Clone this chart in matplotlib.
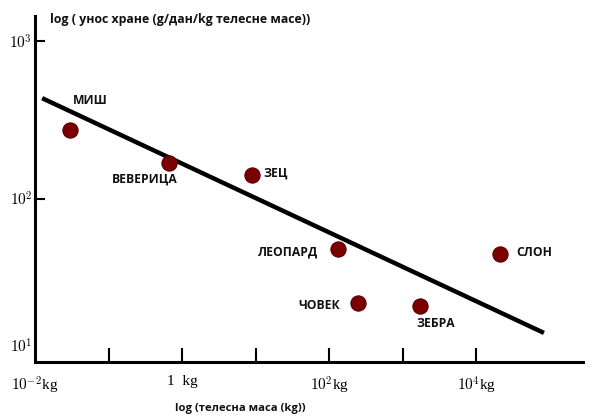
import matplotlib
matplotlib.use('Agg')
import matplotlib.pyplot as plt
import matplotlib.transforms as mtransforms
import numpy as np

# animals: body mass (kg) and food intake (g/day/kg body mass)
animals = ['МИШ', 'ВЕВЕРИЦА', 'ЗЕЦ', 'ЛЕОПАРД', 'СЛОН', 'ЧОВЕК', 'ЗЕБРА']
mass = [0.030, 0.67, 9.0, 131, 21000, 245, 1700]
intake = [273, 169, 142, 48, 45, 22, 21]

# trend line end points
line_x = [0.0125, 83000]
line_y = [436, 14.2]

xticks = [1e-2, 1e-1, 1e0, 1e1, 1e2, 1e3, 1e4]
xticklabels = [r'$10^{-2}$kg', '', r'1  kg', '', r'$10^{2}$kg', '', r'$10^{4}$kg']
yticks = [1e1, 1e2, 1e3]
yticklabels = [r'$10^{1}$', r'$10^{2}$', r'$10^{3}$']

# label offsets in pixels from each point, and alignment
offsets = [(3, 30), (-25, -16), (11, 2), (-20, -3), (16, 1), (-18, -3), (16, -17)]
aligns = ['left', 'center', 'left', 'right', 'left', 'right', 'center']

plt.rcParams['mathtext.fontset'] = 'cm'
plt.rcParams['font.family'] = ['Open Sans', 'DejaVu Sans']

fig = plt.figure(figsize=(5.91, 4.15), dpi=100)
ax = fig.add_axes([35/591, 1 - 362/415, (583-35)/591, (362-16)/415])

ax.set_xscale('log')
ax.set_yscale('log')
ax.set_xlim(10**-1.99, 10**5.45)
ax.set_ylim(10**0.968, 10**3.16)

ax.plot(line_x, line_y, color='black', lw=3.2, solid_capstyle='butt', zorder=2)
ax.scatter(mass, intake, s=120, color='#7a0000', edgecolor='#5a0000', lw=0.8, zorder=3)

for name, x, y, off, ha in zip(animals, mass, intake, offsets, aligns):
    ax.annotate(name, (x, y), xytext=off, textcoords='offset pixels',
                ha=ha, va='center', fontsize=8.7, fontweight='bold', color='#111111')

for s in ['top', 'right']:
    ax.spines[s].set_visible(False)
for s in ['left', 'bottom']:
    ax.spines[s].set_linewidth(2.2)
ax.plot(1, 0, '>k', markersize=7, transform=ax.get_yaxis_transform(), clip_on=False)
ax.plot(0, 1, '^k', markersize=7, transform=ax.get_xaxis_transform(), clip_on=False)

ax.xaxis.set_minor_locator(matplotlib.ticker.NullLocator())
ax.yaxis.set_minor_locator(matplotlib.ticker.NullLocator())
ax.set_xticks(xticks)
ax.set_xticklabels(xticklabels, family='Liberation Serif', fontsize=11)
ax.set_yticks(yticks)
ax.set_yticklabels(yticklabels, fontsize=11)
ax.tick_params(axis='x', direction='in', length=10, width=1.5, pad=9)
ax.tick_params(axis='y', direction='in', length=7, width=1.5, pad=2)
ax.xaxis.get_major_ticks()[0].tick1line.set_visible(False)
ax.yaxis.get_major_ticks()[0].tick1line.set_visible(False)
lab = ax.yaxis.get_major_ticks()[0].label1
lab.set_transform(lab.get_transform() + mtransforms.ScaledTranslation(0, 8/72, fig.dpi_scale_trans))

fig.text(50/591, 1 - 20/415, 'log ( унос хране (g/дан/kg телесне масе))',
         ha='left', va='center', fontsize=8.9, fontweight='bold', color='#111111')
fig.text(240/591, 1 - 408/415, 'log (телесна маса (kg))',
         ha='center', va='center', fontsize=8.1, fontweight='bold', color='#111111')

fig.savefig('out.png', dpi=100)
